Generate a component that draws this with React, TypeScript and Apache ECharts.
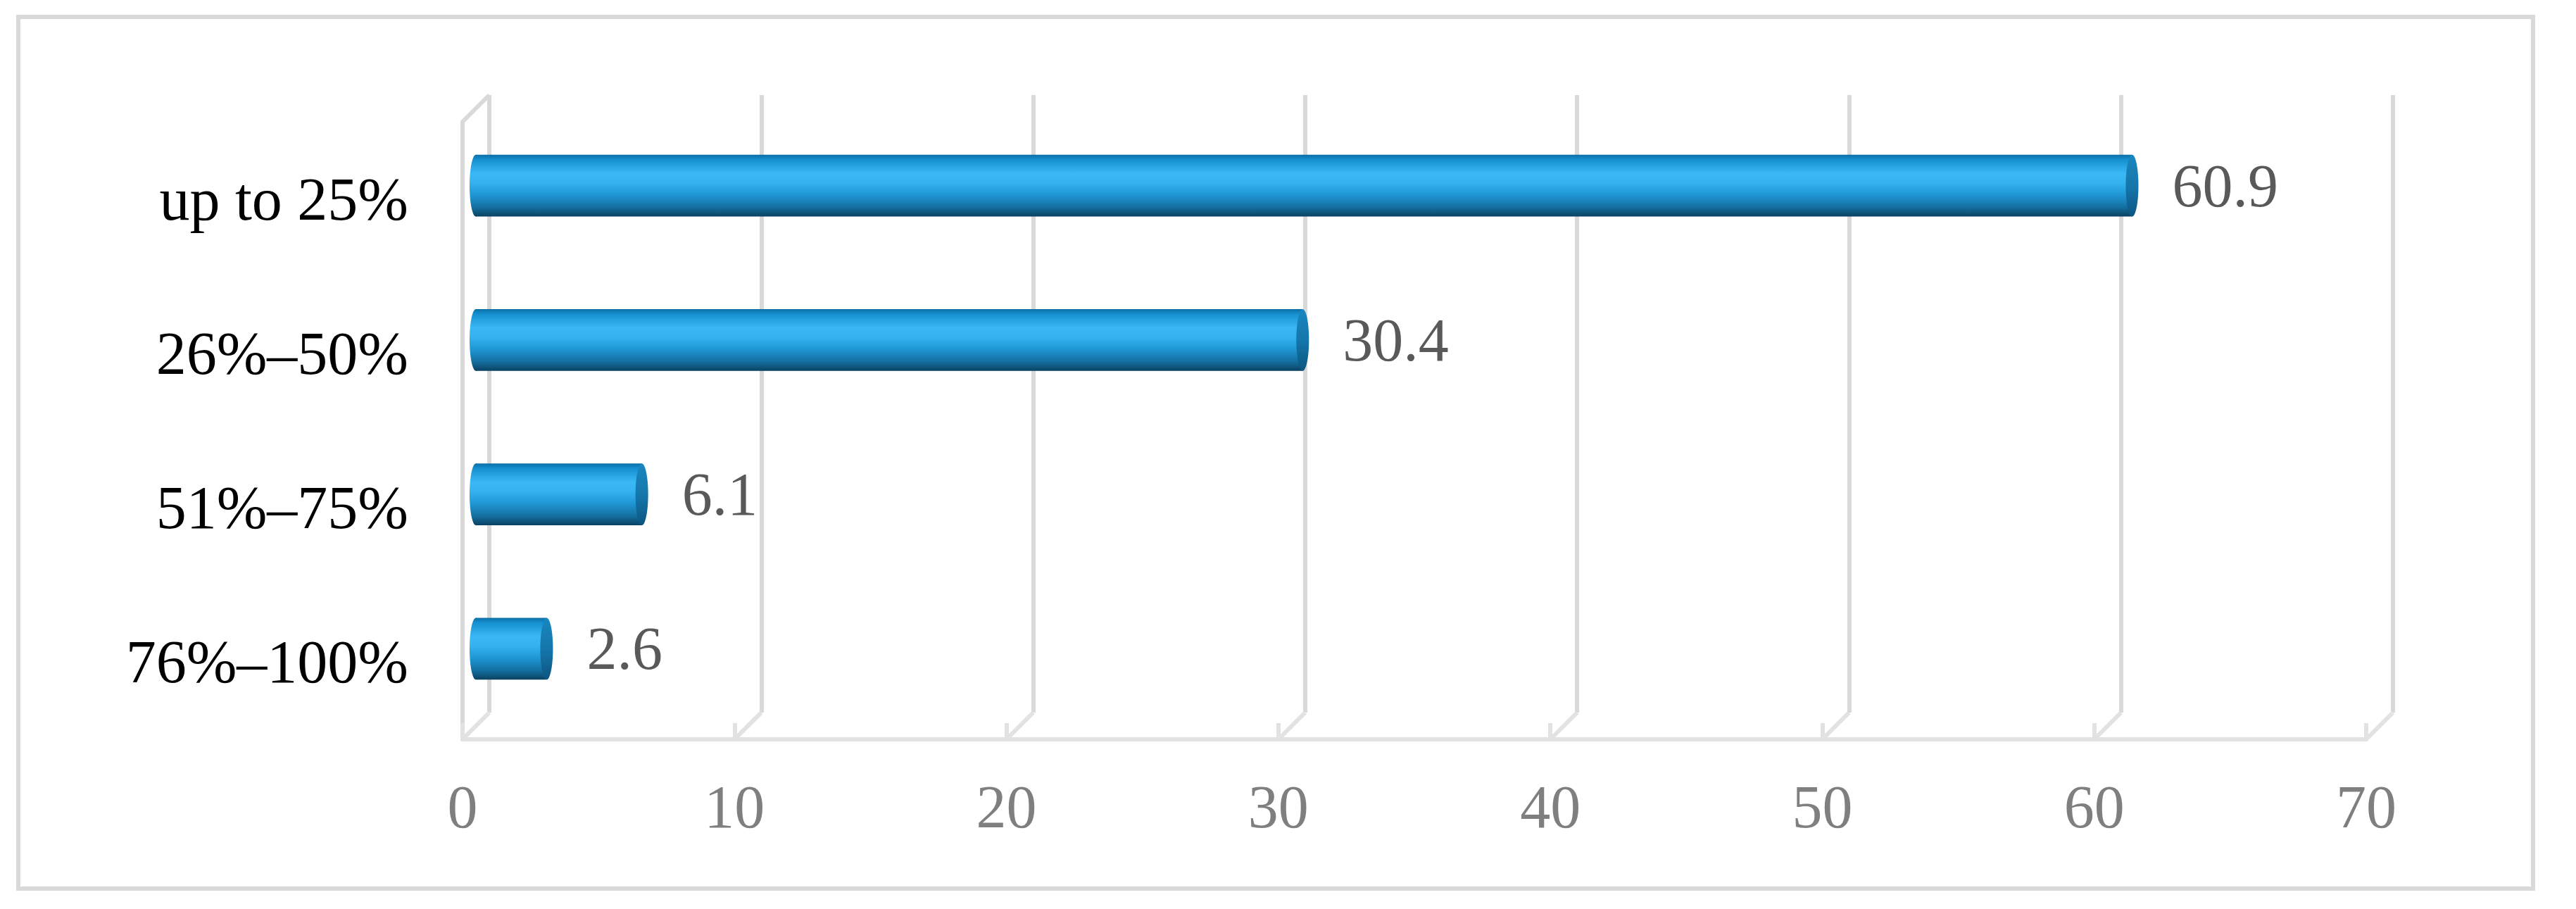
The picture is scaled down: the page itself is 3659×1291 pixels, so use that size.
import React, { useEffect, useRef } from "react";
import * as echarts from "echarts";

const categories = ["up to 25%", "26%–50%", "51%–75%", "76%–100%"];
const values = [60.9, 30.4, 6.1, 2.6];
const ticks = [0, 10, 20, 30, 40, 50, 60, 70];

const SERIF = '"Liberation Serif", "Times New Roman", serif';
const W = 3659;
const H = 1291;
const DEPTH = 38;
const FRONT = { left: 657, right: 298, top: 173, bottom: 241 };
const HALF = DEPTH / 2;
const WALL = "#d9d9d9";
const FLOOR = "#e2e2e2";

export default function App() {
  const ref = useRef<HTMLDivElement>(null);

  useEffect(() => {
    if (!ref.current) return;
    const chart = echarts.init(ref.current, undefined, { renderer: "svg" });

    const barGrad = () =>
      new echarts.graphic.LinearGradient(0, 0, 0, 1, [
        { offset: 0, color: "#0b6ea5" },
        { offset: 0.08, color: "#1690d0" },
        { offset: 0.3, color: "#39b8f5" },
        { offset: 0.45, color: "#35b3f1" },
        { offset: 0.65, color: "#1f96d4" },
        { offset: 0.85, color: "#146fa0" },
        { offset: 1, color: "#0a4262" },
      ]);
    const capGrad = () =>
      new echarts.graphic.LinearGradient(0, 0, 0, 1, [
        { offset: 0, color: "#1a86c0" },
        { offset: 0.5, color: "#1577ab" },
        { offset: 1, color: "#0c5580" },
      ]);

    const option: any = {
      animation: false,
      backgroundColor: "#ffffff",
      grid: [
        {
          left: FRONT.left,
          right: FRONT.right,
          top: FRONT.top,
          bottom: FRONT.bottom,
        },
        {
          left: FRONT.left + DEPTH,
          right: FRONT.right - DEPTH,
          top: FRONT.top - DEPTH,
          bottom: FRONT.bottom + DEPTH,
        },
        {
          left: FRONT.left + HALF,
          right: FRONT.right - HALF,
          top: FRONT.top - HALF,
          bottom: FRONT.bottom + HALF,
        },
      ],
      xAxis: [
        {
          type: "value",
          gridIndex: 0,
          min: 0,
          max: 70,
          interval: 10,
          axisLine: { show: true, lineStyle: { color: FLOOR, width: 6 } },
          axisTick: {
            show: true,
            inside: true,
            length: 23,
            lineStyle: { color: FLOOR, width: 6 },
          },
          splitLine: { show: false },
          axisLabel: {
            show: true,
            color: "#7f7f7f",
            fontSize: 86,
            fontFamily: SERIF,
            margin: 53,
            formatter: (v: number) => (ticks.includes(v) ? String(v) : ""),
          },
        },
        {
          type: "value",
          gridIndex: 1,
          min: 0,
          max: 70,
          interval: 10,
          axisLine: { show: false },
          axisTick: { show: false },
          axisLabel: { show: false },
          splitLine: { show: true, lineStyle: { color: WALL, width: 6 } },
        },
        {
          type: "value",
          gridIndex: 2,
          min: 0,
          max: 70,
          interval: 10,
          show: false,
          splitLine: { show: false },
        },
      ],
      yAxis: [
        {
          type: "category",
          gridIndex: 0,
          data: categories,
          inverse: true,
          axisLine: { show: true, lineStyle: { color: WALL, width: 6 } },
          axisTick: { show: false },
          splitLine: { show: false },
          axisLabel: {
            color: "#000000",
            fontSize: 86,
            fontFamily: SERIF,
            margin: 77,
          },
        },
        {
          type: "category",
          gridIndex: 1,
          data: categories,
          inverse: true,
          show: false,
        },
        {
          type: "category",
          gridIndex: 2,
          data: categories,
          inverse: true,
          show: false,
        },
      ],
      graphic: [
        {
          type: "rect",
          shape: { x: 26, y: 24, width: 3572, height: 1238 },
          style: { fill: "none", stroke: "#d9d9d9", lineWidth: 6 },
          silent: true,
        },
      ],
      series: [
        {
          type: "custom",
          name: "depth",
          xAxisIndex: 0,
          yAxisIndex: 0,
          silent: true,
          data: ticks.map((t) => [t, 0]),
          renderItem: (params: any, api: any) => {
            const x = api.coord([api.value(0), 0])[0];
            const cs = params.coordSys;
            const fy = cs.y + cs.height;
            const children: any[] = [
              {
                type: "line",
                shape: { x1: x, y1: fy, x2: x + DEPTH, y2: fy - DEPTH },
                style: { stroke: FLOOR, lineWidth: 6 },
              },
            ];
            if (params.dataIndex === 0) {
              children.push({
                type: "line",
                shape: {
                  x1: cs.x,
                  y1: cs.y,
                  x2: cs.x + DEPTH,
                  y2: cs.y - DEPTH,
                },
                style: { stroke: WALL, lineWidth: 6 },
              });
            }
            return { type: "group", children };
          },
        },
        {
          type: "custom",
          name: "share",
          xAxisIndex: 2,
          yAxisIndex: 2,
          z: 5,
          data: values.map((v, i) => [v, i]),
          renderItem: (params: any, api: any) => {
            const v = api.value(0);
            const idx = api.value(1);
            const s = api.coord([0, idx]);
            const e = api.coord([v, idx]);
            const h = api.size([0, 1])[1] * 0.4;
            const rx = 9;
            return {
              type: "group",
              children: [
                {
                  type: "ellipse",
                  shape: { cx: s[0], cy: s[1], rx, ry: h / 2 },
                  style: { fill: barGrad() },
                },
                {
                  type: "rect",
                  shape: { x: s[0], y: s[1] - h / 2, width: e[0] - s[0], height: h },
                  style: { fill: barGrad() },
                },
                {
                  type: "ellipse",
                  shape: { cx: e[0], cy: e[1], rx, ry: h / 2 },
                  style: { fill: capGrad() },
                },
                {
                  type: "text",
                  style: {
                    text: String(v),
                    x: e[0] + rx + 48,
                    y: e[1],
                    align: "left",
                    verticalAlign: "middle",
                    fill: "#595959",
                    fontSize: 86,
                    fontFamily: SERIF,
                  },
                },
              ],
            };
          },
        },
      ],
    };

    chart.setOption(option);
    return () => chart.dispose();
  }, []);

  return (
    <div
      ref={ref}
      style={{
        position: "absolute",
        left: 0,
        top: 0,
        width: W,
        height: H,
        background: "#ffffff",
      }}
    />
  );
}
